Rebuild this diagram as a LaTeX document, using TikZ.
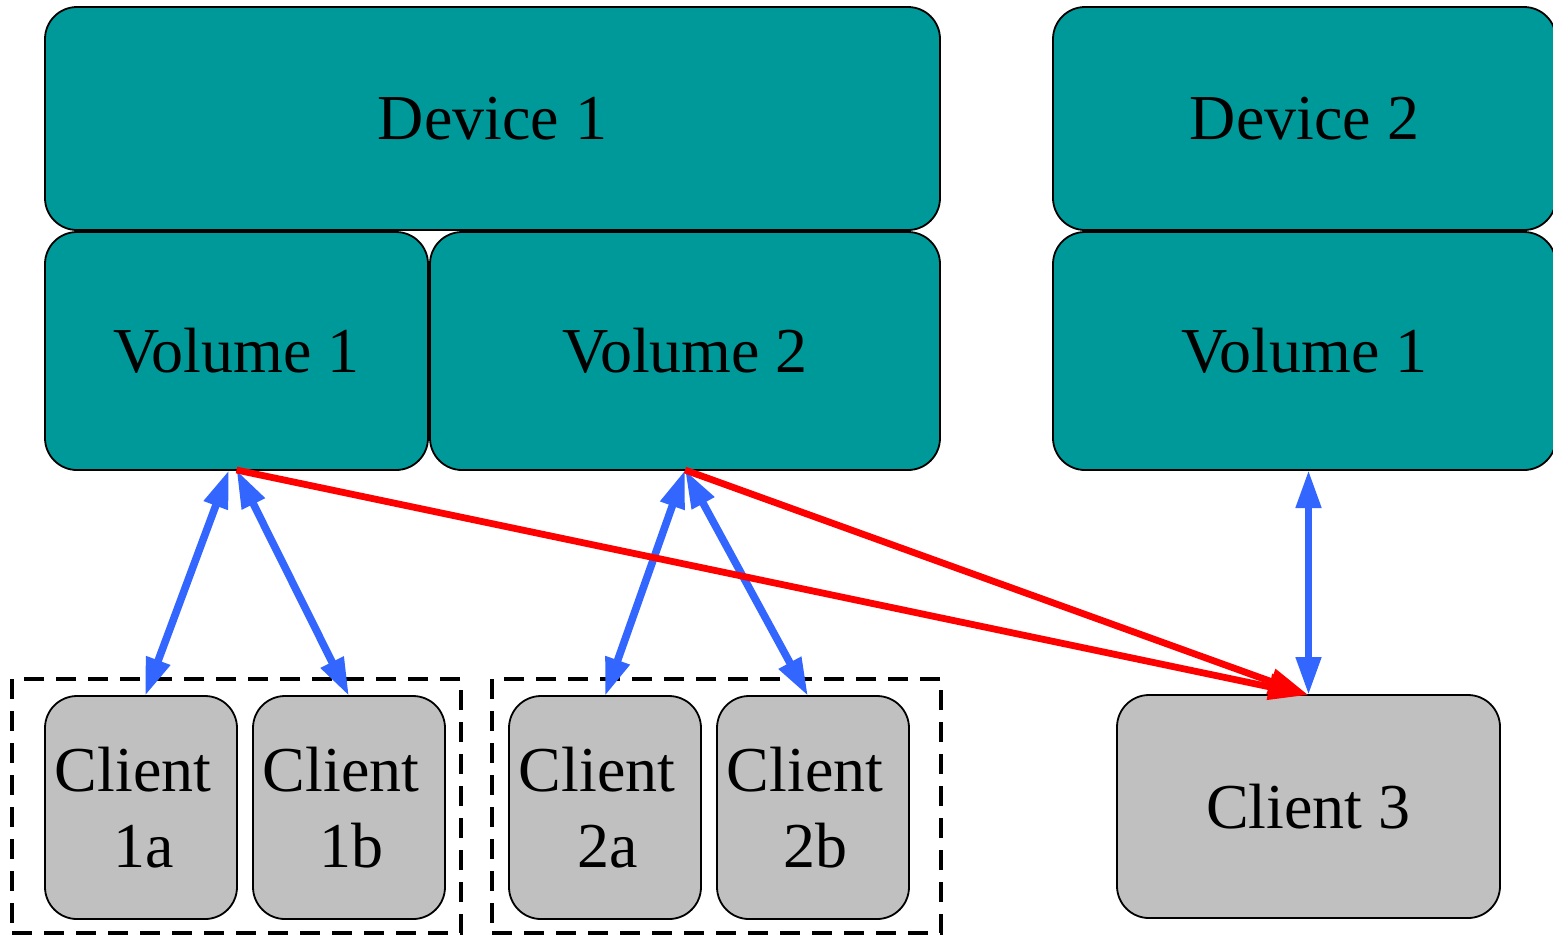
\documentclass[tikz,border=0pt]{standalone}
\usepackage{fontspec}
\setmainfont{Liberation Serif}
\usetikzlibrary{arrows.meta}
\definecolor{tealbox}{RGB}{0,153,153}
\definecolor{graybox}{RGB}{192,192,192}
\definecolor{linkblue}{RGB}{51,102,255}
\definecolor{linkred}{RGB}{255,0,0}

\begin{document}
\begin{tikzpicture}[x=0.5pt,y=-0.5pt,
  box/.style={draw=black,line width=0.9pt,rounded corners=16pt,inner sep=0pt,outer sep=0pt,
    align=center,font=\fontsize{32}{38}\selectfont},
  store/.style={box,fill=tealbox},
  client/.style={box,fill=graybox,minimum width=96pt,minimum height=111.5pt},
  group/.style={draw=black,line width=2pt,dash pattern=on 10pt off 6pt,inner sep=0pt,outer sep=0pt,
    minimum width=224.5pt,minimum height=127pt},
  access/.style={linkblue,line width=3.8pt,
    {Triangle[length=19pt,width=12pt]}-{Triangle[length=19pt,width=12pt]}},
  migrate/.style={linkred,line width=3.4pt,-{Triangle[length=20pt,width=12.5pt]}}
]
\useasboundingbox (0,0) rectangle (1553,934);

% storage devices and their volumes
\node[store,minimum width=447.5pt,minimum height=111.5pt] (dev1) at (492.5,118.5) {\raisebox{-1.5pt}{Device 1}};
\node[store,minimum width=191.5pt,minimum height=119pt] (vol11) at (236.5,351) {Volume 1};
\node[store,minimum width=255pt,minimum height=119pt] (vol12) at (685,351) {Volume 2};
\node[store,minimum width=251.5pt,minimum height=111.5pt] (dev2) at (1304.5,118.5) {\raisebox{-1.5pt}{Device 2}};
\node[store,minimum width=251.5pt,minimum height=119pt] (vol21) at (1304.5,351) {Volume 1};

% client groups
\node[group] (grp1) at (236.5,806) {};
\node[group] (grp2) at (716.5,806) {};

% clients (the first line keeps its trailing space)
\newcommand\clientlabel[1]{Client\hbox to .25em{}\\\hbox to .07em{}#1}
\node[client] (c1a) at (141,807.5) {\clientlabel{1a}};
\node[client] (c1b) at (349,807.5) {\clientlabel{1b}};
\node[client] (c2a) at (605,807.5) {\clientlabel{2a}};
\node[client] (c2b) at (813,807.5) {\clientlabel{2b}};
\node[client,minimum width=191.5pt] (c3) at (1308.5,806.5) {Client 3};

% client access links
\draw[access] ([xshift=-3.75pt]vol11.south) -- ([xshift=2pt]c1a.north);
\draw[access] (vol11.south) -- (c1b.north);
\draw[access] (vol12.south) -- (c2a.north);
\draw[access] (vol12.south) -- ([xshift=-2.5pt]c2b.north);
\draw[access] (c3.north |- vol21.south) -- (c3.north);

% migration links
\draw[migrate] (vol11.south) -- (c3.north);
\draw[migrate] (vol12.south) -- (c3.north);
\end{tikzpicture}
\end{document}
